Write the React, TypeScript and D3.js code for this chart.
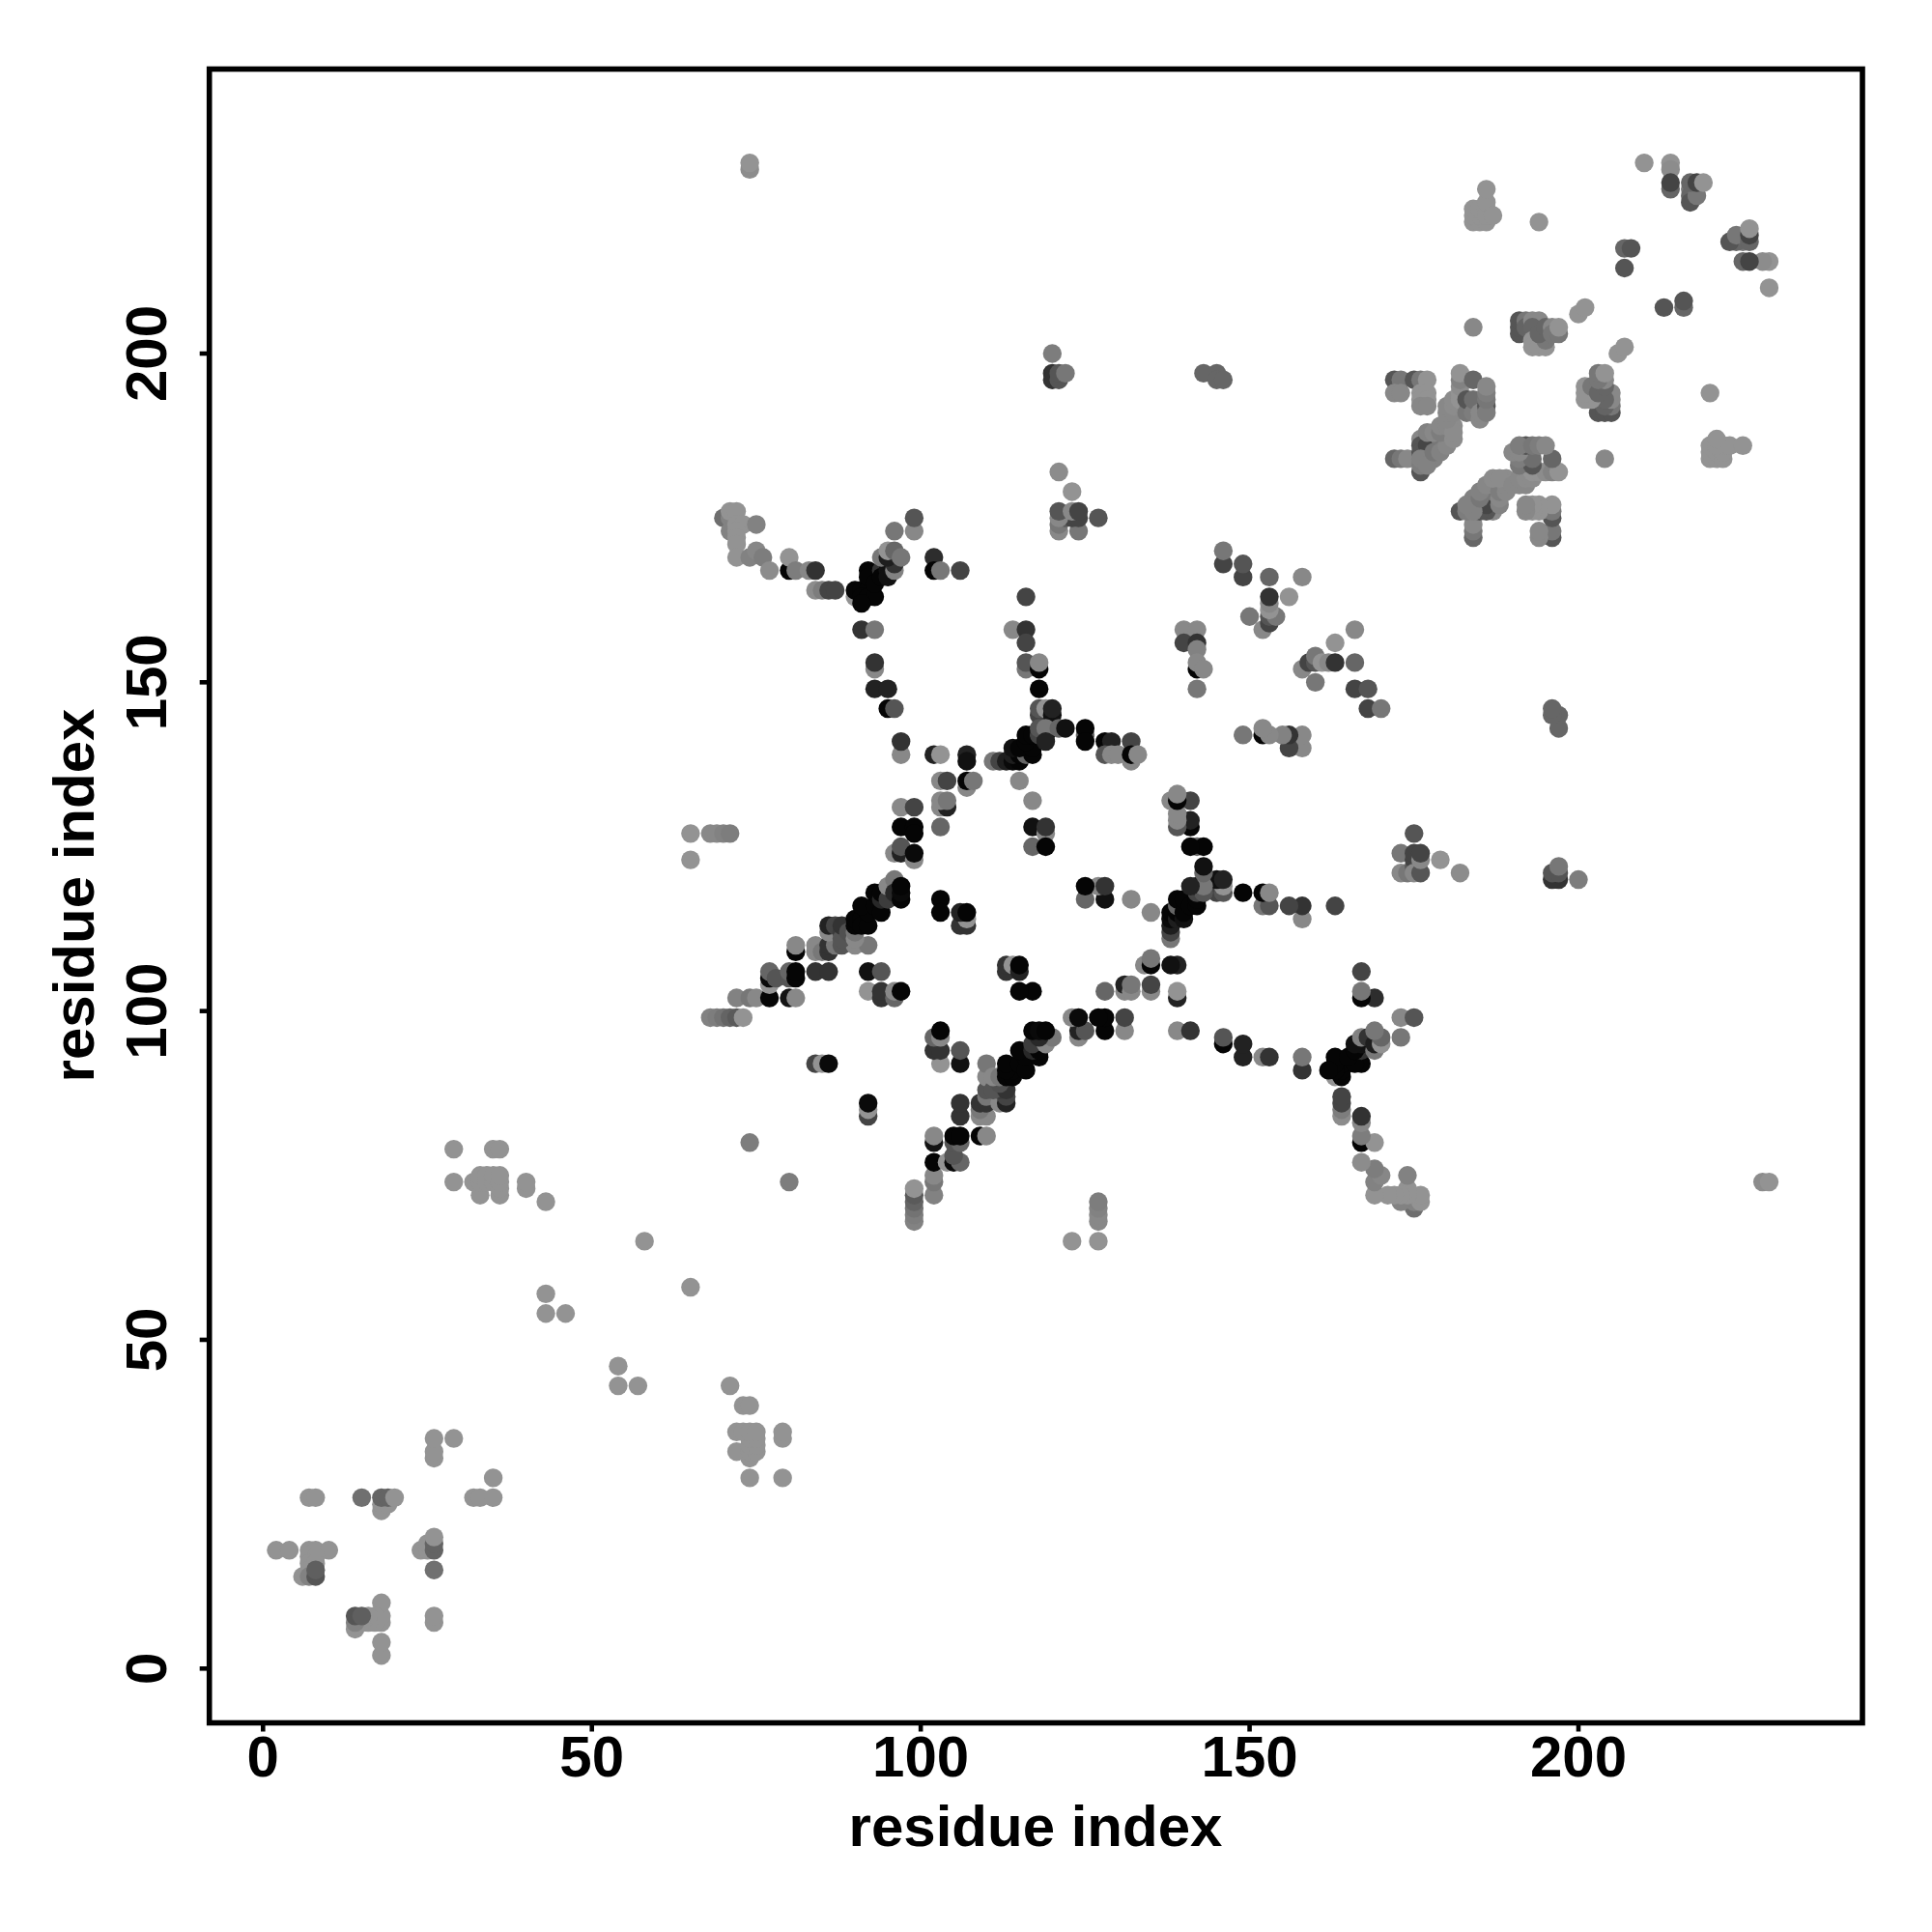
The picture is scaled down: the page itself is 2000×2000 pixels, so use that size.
import React from "react";
import * as d3 from "d3";

// Each row: [residue i, residue j, grey level]; the contact map is symmetric, so both (i,j) and (j,i) are drawn.
type Row = [number, number, number];

const tickValues = [0, 50, 100, 150, 200];
const axisTitle = "residue index";

const contactsNTerminal: Row[] = [
  [2,18,147],[4,18,147],[7,18,147],[8,18,147],[10,18,147],[7,17,147],[8,17,147],[7,16,147],[8,16,147],[7,15,147],[6,14,147],[7,14,130],[8,14,85],[8,15,95],
  [7,26,147],[8,26,147],[15,26,112],[18,24,147],[18,25,147],[19,25,147],[18,26,100],[19,26,100],[20,26,147],
  [26,32,147],[26,33,147],[26,35,147],[29,35,147],
];
const contactsLowMid: Row[] = [
  [29,74,147],[29,79,147],[32,74,147],[33,72,147],[33,74,147],[33,75,147],[34,74,147],[34,75,147],[35,74,147],[35,75,147],[35,79,147],[36,72,147],[36,73,147],[36,74,147],[36,75,147],[36,79,147],
  [40,73,147],[40,74,147],[43,71,147],[43,54,147],[43,57,147],[46,54,147],[58,65,147],[74,80,125],[74,228,140],[74,229,147],
  [65,123,147],[65,127,147],[68,127,136],[69,127,136],[70,127,130],[71,127,125],
];
const contactsArmTopLeft: Row[] = [
  [70,175,110],[71,175,130],[71,176,147],[72,176,147],[71,173,130],[72,174,147],[73,174,147],[75,174,130],[72,173,147],[72,172,147],[72,171,147],[72,169,147],[74,169,130],[75,170,135],[76,169,125],[77,167,140],
  [80,167,5],[80,169,147],[81,167,125],[83,167,135],[84,167,50],[84,164,140],[85,164,125],[86,164,68],[87,164,68],
];
const contactsStarA: Row[] = [
  [90,163,147],[90,164,5],[91,164,5],[92,164,5],[91,163,5],[92,163,5],[93,163,5],[91,162,5],[92,167,5],[92,166,5],[93,165,5],[94,167,51],[94,166,5],[95,167,17],[95,166,17],[96,167,130],[96,168,51],[94,169,120],[95,169,30],[95,170,147],[96,170,102],[97,169,119],[96,173,119],[99,173,136],[99,175,85],
  [102,169,45],[102,167,5],[103,167,119],[106,167,68],
  [91,158,51],[93,158,119],[93,152,136],[93,153,51],[93,149,34],[95,149,34],[95,146,5],[96,146,85],[97,139,136],[97,141,51],
];
const contactsStarB: Row[] = [
  [102,139,34],[103,139,147],[107,139,34],[107,138,17],[103,135,136],[104,135,68],[107,134,136],[107,135,5],[108,135,119],
  [103,131,136],[104,131,34],[103,132,136],[104,132,119],[103,128,102],[97,131,136],[99,131,68],[97,128,5],[99,128,5],[99,127,5],[96,124,136],[97,124,34],[97,125,85],[99,123,136],[99,124,10],
  [117,128,17],[119,127,136],[119,128,51],[117,125,102],[119,125,5],[115,135,136],[117,132,136],
  [116,163,68],[114,158,136],[116,158,51],[116,156,68],[116,152,119],[116,153,85],[118,152,5],[118,153,136],[118,149,5],
  [118,145,68],[118,146,85],[119,146,147],[120,145,17],[120,146,34],
  [111,138,119],[112,138,68],[113,138,30],[114,138,10],[115,138,5],[114,139,30],[115,139,5],[116,139,102],[117,139,5],[114,140,17],[115,140,5],[117,140,5],[116,141,5],[116,142,5],[117,142,5],
  [118,142,68],[119,142,10],[118,143,85],[119,143,119],[121,143,102],[122,143,17],[119,141,34],
  [125,142,102],[125,143,5],[125,141,5],[128,141,5],[129,141,34],[132,141,68],[128,139,85],[129,139,136],[130,139,136],[132,138,136],[132,139,5],[133,139,136],
];
const contactsBand: Row[] = [
  [68,99,130],[69,99,125],[70,99,115],[71,99,100],[72,99,90],[73,99,147],
  [72,102,130],[74,102,119],[75,102,136],[77,102,5],[80,102,20],[81,102,136],
  [77,104,147],[77,105,10],[77,106,102],[78,105,85],[80,105,85],[80,106,102],[81,105,5],[81,106,5],[84,106,51],[86,106,51],
  [81,109,5],[81,110,136],[84,109,136],[84,110,136],[85,109,120],[86,109,51],[86,110,51],[87,110,119],[88,110,85],[90,110,136],[92,110,119],
  [86,112,136],[86,113,34],[87,113,68],[88,112,60],[88,111,85],[88,113,51],[89,112,80],[90,111,136],[90,112,119],
  [90,113,5],[90,114,5],[91,114,5],[91,113,5],[92,113,5],[92,115,5],[91,116,5],[93,116,5],[94,115,5],[93,118,5],[94,117,40],[94,118,5],[95,117,60],[95,119,136],[96,120,119],[96,118,40],[97,117,5],[97,118,10],[97,119,5],
  [92,106,17],[94,106,85],[92,103,147],[94,102,51],[94,103,51],[96,102,102],[96,103,136],[97,103,5],
  [103,117,5],[103,115,5],[106,113,51],[107,113,51],[107,114,147],[106,115,34],[107,115,5],
  [84,92,68],[85,92,147],[86,92,10],
];
const contactsRightMid: Row[] = [
  [140,158,136],[142,158,136],[140,156,68],[142,156,51],[142,155,130],[142,152,5],[142,153,136],[143,152,136],[142,149,119],
  [150,160,119],[152,158,136],[153,159,68],[153,160,85],[154,160,119],[153,161,147],[153,162,136],[153,163,51],[156,163,147],[153,166,102],[158,166,136],
  [149,166,68],[149,168,85],[146,168,68],[146,170,119],
  [121,173,136],[124,173,119],[121,174,119],[122,175,90],[123,175,68],[124,175,68],[121,175,136],[121,176,85],[123,176,136],[124,176,68],[127,175,85],[123,179,147],[121,182,140],
  [120,200,125],[120,197,51],[120,196,51],[121,196,85],[121,197,85],[122,197,119],[143,197,102],[145,197,102],[145,196,102],[146,196,102],
];
const contactsClusterA: Row[] = [
  [172,184,102],[173,184,119],[174,184,136],[176,182,85],[176,187,136],[177,187,119],[176,186,85],[176,185,85],[177,185,100],[177,184,110],[178,184,130],[178,187,85],[178,186,119],[177,186,70],[179,186,70],[176,183,125],[176,184,130],[177,183,130],[178,185,119],[179,187,120],[179,185,130],[180,186,135],[180,188,140],[177,188,130],[178,188,136],[179,188,125],[179,189,136],[180,189,136],[181,187,140],[181,189,140],[181,188,140],
];
const contactsClusterB: Row[] = [
  [172,196,85],[173,196,119],[172,194,136],[173,194,136],[175,196,85],[176,196,119],[177,196,147],[176,194,147],[177,194,147],[176,193,147],[177,193,147],[176,192,136],[177,192,136],
  [180,190,136],[180,191,136],[180,192,136],[181,191,136],[181,192,140],[181,193,140],[182,193,147],[182,194,147],[182,195,140],[182,196,130],[182,197,147],
  [183,191,119],[183,193,85],[184,191,125],[184,193,110],[184,196,102],[185,190,136],[185,191,136],[186,192,85],[186,191,125],[186,193,119],[186,194,125],[186,195,136],
];
const contactsClusterC: Row[] = [
  [184,220,147],[185,220,147],[186,220,147],[184,221,147],[185,221,147],[184,222,147],[185,222,147],[186,222,147],[186,221,147],[186,223,147],[187,221,147],[186,225,147],[194,220,147],[184,204,136],
];
const contactsClusterD: Row[] = [
  [191,203,85],[191,204,85],[191,205,85],[192,205,119],[192,204,100],[193,205,136],[194,205,136],[193,204,102],[193,202,147],[193,201,147],[194,201,147],[195,201,147],[195,202,119],[194,203,102],[195,204,102],[196,204,136],[196,203,119],[197,203,119],[197,204,147],
  [200,206,147],[201,207,147],
];
const contactsCTerminal: Row[] = [
  [207,216,102],[208,216,85],[207,213,85],[210,229,147],[214,229,147],[214,228,140],[214,225,102],[214,226,68],
  [217,225,119],[217,224,102],[217,223,85],[218,224,119],[217,226,102],[218,226,68],[219,226,147],
];

const allContacts: Row[] = [
  ...contactsNTerminal, ...contactsLowMid, ...contactsArmTopLeft, ...contactsStarA, ...contactsStarB,
  ...contactsBand, ...contactsRightMid, ...contactsClusterA, ...contactsClusterB, ...contactsClusterC,
  ...contactsClusterD, ...contactsCTerminal,
];

const frame = { left: 216.7, right: 1928, top: 71.5, bottom: 1783.5 };
const xScale = d3.scaleLinear().domain([0, 200]).range([272.3, 1634]);
const yScale = d3.scaleLinear().domain([0, 200]).range([1727.3, 366]);
const font = "'Liberation Sans', Helvetica, Arial, sans-serif";
const grey = (g: number) => d3.rgb(g, g, g).formatHex();
const dotRadius = 9.7;

export default function App() {
  return (
    <svg width={2000} height={2000} style={{ position: "absolute", left: 0, top: 0, display: "block", background: "#fff" }}>
      {allContacts.flatMap(([i, j, g], k) => [
        <circle key={`a${k}`} cx={xScale(i)} cy={yScale(j)} r={dotRadius} fill={grey(g)} />,
        <circle key={`b${k}`} cx={xScale(j)} cy={yScale(i)} r={dotRadius} fill={grey(g)} />,
      ])}
      <rect x={frame.left} y={frame.top} width={frame.right - frame.left} height={frame.bottom - frame.top} fill="none" stroke="#000" strokeWidth={5.6} />
      {tickValues.map((t) => (
        <g key={`x${t}`}>
          <line x1={xScale(t)} x2={xScale(t)} y1={frame.bottom} y2={frame.bottom + 9} stroke="#000" strokeWidth={4.6} />
          <text x={xScale(t)} y={1839} textAnchor="middle" fontFamily={font} fontWeight="bold" fontSize={60}>{t}</text>
        </g>
      ))}
      {tickValues.map((t) => (
        <g key={`y${t}`}>
          <line x1={frame.left} x2={frame.left - 10} y1={yScale(t)} y2={yScale(t)} stroke="#000" strokeWidth={4.6} />
          <text transform={`translate(172,${yScale(t)}) rotate(-90)`} textAnchor="middle" fontFamily={font} fontWeight="bold" fontSize={60}>{t}</text>
        </g>
      ))}
      <text x={1072} y={1911} textAnchor="middle" fontFamily={font} fontWeight="bold" fontSize={60}>{axisTitle}</text>
      <text transform="translate(97,927) rotate(-90)" textAnchor="middle" fontFamily={font} fontWeight="bold" fontSize={60}>{axisTitle}</text>
    </svg>
  );
}
